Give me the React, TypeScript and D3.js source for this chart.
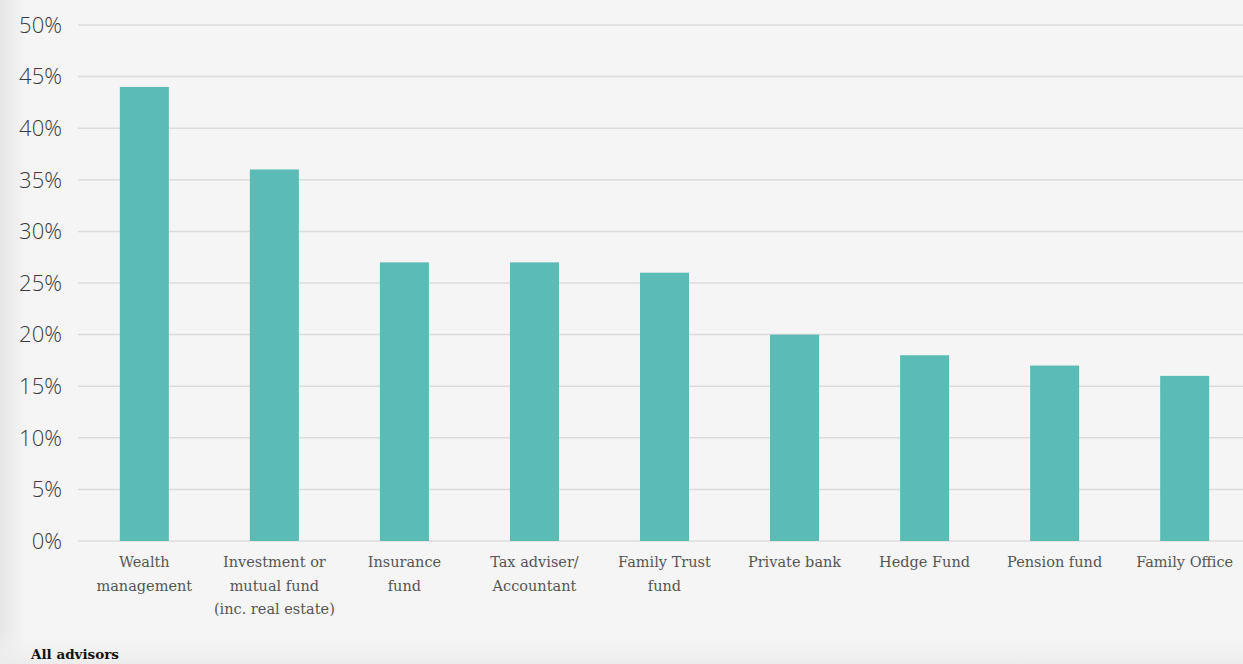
import React from "react";
import * as d3 from "d3";

const categories: string[][] = [
  ["Wealth", "management"],
  ["Investment or", "mutual fund", "(inc. real estate)"],
  ["Insurance", "fund"],
  ["Tax adviser/", "Accountant"],
  ["Family Trust", "fund"],
  ["Private bank"],
  ["Hedge Fund"],
  ["Pension fund"],
  ["Family Office"],
];
const values: number[] = [44, 36, 27, 27, 26, 20, 18, 17, 16];
const yTicks: number[] = [0, 5, 10, 15, 20, 25, 30, 35, 40, 45, 50];
const footnote = "All advisors";

const W = 1243;
const H = 664;

export default function App() {
  const x = d3
    .scaleBand<number>()
    .domain(categories.map((_, i) => i))
    .range([79.5, 1249.5])
    .paddingInner(0.623)
    .paddingOuter(0.31);
  const y = d3.scaleLinear().domain([0, 50]).range([541, 25]);

  return (
    <svg
      width={W}
      height={H}
      style={{ position: "absolute", left: 0, top: 0, display: "block" }}
    >
      <defs>
        <linearGradient id="lshadow" x1="0" x2="1" y1="0" y2="0">
          <stop offset="0" stopColor="#e6e6e6" />
          <stop offset="1" stopColor="#f5f5f5" />
        </linearGradient>
        <linearGradient id="bshadow" x1="0" x2="0" y1="0" y2="1">
          <stop offset="0" stopColor="#f5f5f5" stopOpacity={0} />
          <stop offset="1" stopColor="#ececec" stopOpacity={1} />
        </linearGradient>
      </defs>
      <rect x={0} y={0} width={W} height={H} fill="#f5f5f5" />
      <rect x={0} y={0} width={26} height={H} fill="url(#lshadow)" />
      <rect x={0} y={630} width={W} height={34} fill="url(#bshadow)" />

      {yTicks.map((t) => (
        <g key={t}>
          <line
            x1={78}
            x2={W}
            y1={y(t)}
            y2={y(t)}
            stroke="#dcdcdc"
            strokeWidth={1.5}
          />
          <text
            x={62}
            y={y(t)}
            dy="0.35em"
            textAnchor="end"
            fontFamily="'Open Sans', sans-serif"
            fontWeight={300}
            fontSize={22}
            fill="#3a3a3a"
          >
            {t}%
          </text>
        </g>
      ))}

      {values.map((v, i) => (
        <rect
          key={i}
          x={x(i)}
          y={y(v)}
          width={x.bandwidth()}
          height={y(0) - y(v)}
          fill="#5bbcb6"
        />
      ))}

      {categories.map((lines, i) => (
        <text
          key={i}
          x={(x(i) as number) + x.bandwidth() / 2}
          y={567}
          textAnchor="middle"
          fontFamily="'DejaVu Serif', serif"
          fontSize={14.5}
          fill="#555"
        >
          {lines.map((l, j) => (
            <tspan key={j} x={(x(i) as number) + x.bandwidth() / 2} dy={j === 0 ? 0 : 23.5}>
              {l}
            </tspan>
          ))}
        </text>
      ))}

      <text
        x={31}
        y={659}
        fontFamily="'DejaVu Serif', serif"
        fontWeight="bold"
        fontSize={13.5}
        fill="#111"
      >
        {footnote}
      </text>
    </svg>
  );
}
